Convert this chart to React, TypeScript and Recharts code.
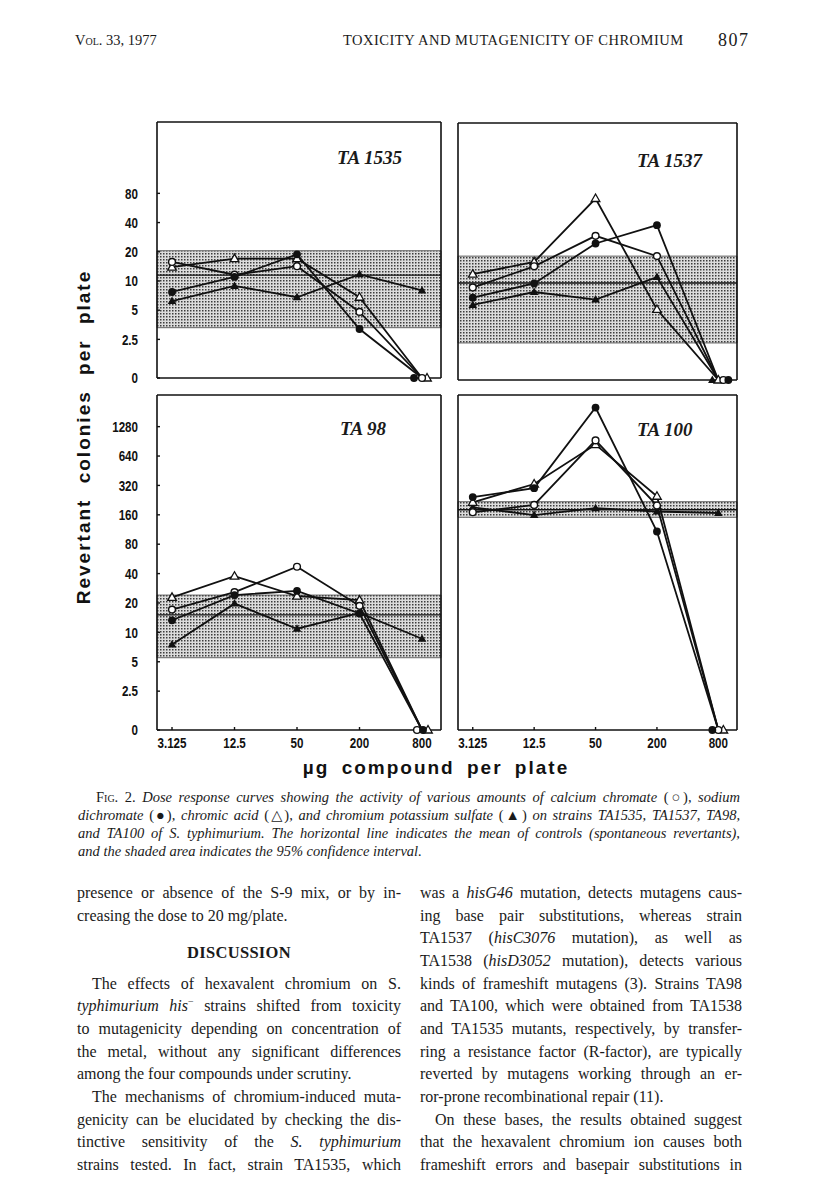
import React from 'react';
import { LineChart, Line, XAxis, YAxis, ReferenceArea, ReferenceLine } from 'recharts';

// doses in µg per plate (log-spaced, factor 4)
const DOSES = [3.125, 12.5, 50, 200, 800];
const TOP_TICKS = [0, 2.5, 5, 10, 20, 40, 80];
const BOTTOM_TICKS = [0, 2.5, 5, 10, 20, 40, 80, 160, 320, 640, 1280];

// revertant colonies per plate (0 = toxic, no colonies)
const TA1535_CALCIUM = [15.7, 11.6, 14.2, 4.8, 0];
const TA1535_SODIUM = [7.7, 11.0, 18.8, 3.2, 0];
const TA1535_CHROMIC = [13.9, 17.0, 17.0, 6.8, 0];
const TA1535_CRK = [6.2, 8.9, 6.8, 11.7, 8.0];
const TA1535_CONTROL = [3.3, 11.5, 20.5]; // lower 95%, mean, upper 95%

const TA1537_CALCIUM = [8.9, 14.7, 30.2, 18.7, 0];
const TA1537_SODIUM = [7.0, 9.8, 25.2, 38.9, 0];
const TA1537_CHROMIC = [12.2, 16.3, 73, 5.3, 0];
const TA1537_CRK = [5.9, 8.0, 6.7, 11.4, 0];
const TA1537_CONTROL = [2.4, 9.9, 18.7];

const TA98_CALCIUM = [17.1, 25.8, 47, 18.7, 0];
const TA98_SODIUM = [13.3, 24.1, 26.6, 15.6, 0];
const TA98_CHROMIC = [22.8, 37.6, 23.5, 21.4, 0];
const TA98_CRK = [7.5, 19.7, 10.9, 15.8, 8.6];
const TA98_CONTROL = [5.5, 15.1, 24.1];

const TA100_CALCIUM = [170, 202, 925, 199, 0];
const TA100_SODIUM = [243, 300, 2008, 108, 0];
const TA100_CHROMIC = [215, 331, 838, 248, 0];
const TA100_CRK = [191, 159, 187, 173, 167];
const TA100_CONTROL = [151, 180, 218];

const FLOOR = 1; // where "0" sits on the log axis
const X_DOMAIN = [2.24, 1219];
const PAD = 6;
const PAD_BOTTOM = 12;
const INK = '#111';

type Marker = 'openCircle' | 'filledCircle' | 'openTriangle' | 'filledTriangle';

const SERIES: { key: string; marker: Marker }[] = [
  { key: 'crk', marker: 'filledTriangle' },
  { key: 'chromic', marker: 'openTriangle' },
  { key: 'calcium', marker: 'openCircle' },
  { key: 'sodium', marker: 'filledCircle' },
];

const PANELS = [
  {
    id: 'ta1535',
    data: { calcium: TA1535_CALCIUM, sodium: TA1535_SODIUM, chromic: TA1535_CHROMIC, crk: TA1535_CRK },
    control: TA1535_CONTROL,
    ticks: TOP_TICKS,
    yMax: 435,
    box: { x: 157, y: 122, w: 284, h: 256 },
    yLabels: true,
    xLabels: false,
    zeroShift: { sodium: -8, calcium: 0, chromic: 5 } as Record<string, number>,
  },
  {
    id: 'ta1537',
    data: { calcium: TA1537_CALCIUM, sodium: TA1537_SODIUM, chromic: TA1537_CHROMIC, crk: TA1537_CRK },
    control: TA1537_CONTROL,
    ticks: TOP_TICKS,
    yMax: 435,
    box: { x: 458, y: 123, w: 279, h: 257 },
    yLabels: false,
    xLabels: false,
    zeroShift: { crk: -6, chromic: 0, calcium: 5, sodium: 10 } as Record<string, number>,
  },
  {
    id: 'ta98',
    data: { calcium: TA98_CALCIUM, sodium: TA98_SODIUM, chromic: TA98_CHROMIC, crk: TA98_CRK },
    control: TA98_CONTROL,
    ticks: BOTTOM_TICKS,
    yMax: 2700,
    box: { x: 157, y: 395, w: 284, h: 335 },
    yLabels: true,
    xLabels: true,
    zeroShift: { calcium: -5, sodium: 1, chromic: 6 } as Record<string, number>,
  },
  {
    id: 'ta100',
    data: { calcium: TA100_CALCIUM, sodium: TA100_SODIUM, chromic: TA100_CHROMIC, crk: TA100_CRK },
    control: TA100_CONTROL,
    ticks: BOTTOM_TICKS,
    yMax: 2700,
    box: { x: 458, y: 395, w: 279, h: 335 },
    yLabels: false,
    xLabels: true,
    zeroShift: { sodium: -6, calcium: 0, chromic: 5 } as Record<string, number>,
  },
];

const plotValue = (v: number) => (v === 0 ? FLOOR : v);

// bold, horizontally squeezed digits like the original's condensed face
const tickText = {
  fontFamily: "'Liberation Sans', Arial, sans-serif",
  fontWeight: 700,
  fontSize: 14.5,
  fill: INK,
};

function YTick(props: any) {
  const { x, y, payload } = props;
  const label = payload.value === FLOOR ? '0' : String(payload.value);
  return (
    <text transform={`translate(${x},${y}) scale(0.8,1)`} textAnchor="end" dy="0.36em" {...tickText}>
      {label}
    </text>
  );
}

function XTick(props: any) {
  const { x, y, payload } = props;
  return (
    <text transform={`translate(${x},${y}) scale(0.8,1)`} textAnchor="middle" dy="0.71em" {...tickText}>
      {String(payload.value)}
    </text>
  );
}

function drawMarker(marker: Marker, shift: number) {
  return (props: any) => {
    const { cx, cy, index, payload, dataKey } = props;
    const k = `${dataKey}-${index}`;
    if (cx == null || cy == null) return <g key={k} />;
    const x = payload[dataKey] === FLOOR ? cx + shift : cx;
    const y = cy;
    if (marker === 'openCircle') {
      return <circle key={k} cx={x} cy={y} r={3.4} fill="#fff" stroke={INK} strokeWidth={1.4} />;
    }
    if (marker === 'filledCircle') {
      return <circle key={k} cx={x} cy={y} r={3.9} fill={INK} />;
    }
    const d = `M${x},${y - 4.5} L${x + 4.3},${y + 3} L${x - 4.3},${y + 3} Z`;
    return marker === 'openTriangle' ? (
      <path key={k} d={d} fill="#fff" stroke={INK} strokeWidth={1.3} />
    ) : (
      <path key={k} d={d} fill={INK} />
    );
  };
}

function Panel({ p }: { p: (typeof PANELS)[number] }) {
  const rows = DOSES.map((dose, i) => ({
    dose,
    calcium: plotValue(p.data.calcium[i]),
    sodium: plotValue(p.data.sodium[i]),
    chromic: plotValue(p.data.chromic[i]),
    crk: plotValue(p.data.crk[i]),
  }));
  const ticks = p.ticks.map((t) => (t === 0 ? FLOOR : t));
  const lw = p.yLabels ? 45 : 1;
  const bh = p.xLabels ? 30 : 1;
  const patId = `stipple-${p.id}`;
  const [low, mean, high] = p.control;
  const axisLine = { stroke: INK, strokeWidth: 1.6 };
  const tickLine = { stroke: INK, strokeWidth: 1.4 };

  return (
    <div style={{ position: 'absolute', left: p.box.x - PAD - lw, top: p.box.y - PAD - 1 }}>
      <LineChart
        width={PAD + lw + p.box.w + 1 + PAD}
        height={PAD + 1 + p.box.h + bh + PAD_BOTTOM}
        data={rows}
        margin={{ top: PAD, right: PAD, bottom: PAD_BOTTOM, left: PAD }}
      >
        <defs>
          <pattern id={patId} width="3" height="3" patternUnits="userSpaceOnUse">
            <rect width="3" height="3" fill="#dcdcdc" />
            <rect x="0" y="0" width="1.5" height="1.5" fill="#3c3c3c" />
          </pattern>
        </defs>
        <XAxis
          dataKey="dose"
          type="number"
          scale="log"
          domain={X_DOMAIN}
          ticks={DOSES}
          interval={0}
          height={bh}
          tickSize={-3}
          tickMargin={11}
          tick={p.xLabels ? <XTick /> : false}
          axisLine={axisLine}
          tickLine={tickLine}
        />
        <XAxis
          xAxisId="t"
          orientation="top"
          dataKey="dose"
          type="number"
          scale="log"
          domain={X_DOMAIN}
          ticks={DOSES}
          interval={0}
          height={1}
          tickSize={-3}
          tick={false}
          axisLine={axisLine}
          tickLine={tickLine}
        />
        <YAxis
          type="number"
          scale="log"
          domain={[FLOOR, p.yMax]}
          ticks={ticks}
          interval={0}
          width={lw}
          tickSize={-3}
          tickMargin={22}
          tick={p.yLabels ? <YTick /> : false}
          axisLine={axisLine}
          tickLine={tickLine}
        />
        <YAxis
          yAxisId="r"
          orientation="right"
          type="number"
          scale="log"
          domain={[FLOOR, p.yMax]}
          ticks={ticks}
          interval={0}
          width={1}
          tickSize={-3}
          tick={false}
          axisLine={axisLine}
          tickLine={tickLine}
        />
        <ReferenceArea y1={low} y2={high} fill={`url(#${patId})`} fillOpacity={1} stroke="#555" strokeWidth={0.9} />
        <ReferenceLine y={mean} stroke={INK} strokeWidth={1.4} />
        {SERIES.map((s) => (
          <Line
            key={s.key}
            dataKey={s.key}
            type="linear"
            stroke={INK}
            strokeWidth={1.8}
            dot={drawMarker(s.marker, p.zeroShift[s.key] ?? 0)}
            activeDot={false}
            isAnimationActive={false}
          />
        ))}
      </LineChart>
    </div>
  );
}

const TITLES = [
  { text: 'TA 1535', x: 337, y: 147 },
  { text: 'TA 1537', x: 637, y: 150 },
  { text: 'TA 98', x: 340, y: 418 },
  { text: 'TA 100', x: 637, y: 419 },
];

const serif = "'Liberation Serif', 'DejaVu Serif', serif";
const sans = "'Liberation Sans', Arial, sans-serif";

function TextLine({ x, y, w, justify = true, indent = 0, children, size = 16, italic = false }: any) {
  return (
    <div
      style={{
        position: 'absolute',
        left: x,
        top: y - 11,
        width: w,
        boxSizing: 'border-box',
        paddingLeft: indent,
        fontSize: size,
        lineHeight: '22px',
        whiteSpace: 'nowrap',
        textAlign: 'justify',
        textAlignLast: justify ? 'justify' : 'left',
        fontStyle: italic ? 'italic' : 'normal',
        color: '#1a1a1a',
      }}
    >
      {children}
    </div>
  );
}

const I = ({ children }: any) => <span style={{ fontStyle: 'italic' }}>{children}</span>;
const U = ({ children }: any) => <span style={{ fontStyle: 'normal' }}>{children}</span>;

const LX = 77;
const LW = 324;
const RX = 420;
const RW = 322;
const rowY = (i: number) => 893 + i * 22.67;

export default function App() {
  return (
    <div
      style={{
        position: 'absolute',
        left: 0,
        top: 0,
        width: 816,
        height: 1197,
        background: '#fff',
        fontFamily: serif,
        color: '#1a1a1a',
        overflow: 'hidden',
      }}
    >
      {/* running head */}
      <div style={{ position: 'absolute', left: 75, top: 31, fontSize: 14.5, lineHeight: '18px' }}>
        <span style={{ fontVariant: 'small-caps' }}>Vol.</span> 33, 1977
      </div>
      <div style={{ position: 'absolute', left: 343, top: 31, fontSize: 14.5, lineHeight: '18px', letterSpacing: 0.5, whiteSpace: 'nowrap' }}>
        TOXICITY AND MUTAGENICITY OF CHROMIUM
      </div>
      <div style={{ position: 'absolute', left: 718, top: 30, fontSize: 18, lineHeight: '20px', letterSpacing: 1.5 }}>807</div>

      {PANELS.map((p) => (
        <Panel key={p.id} p={p} />
      ))}

      {TITLES.map((t) => (
        <div
          key={t.text}
          style={{
            position: 'absolute',
            left: t.x,
            top: t.y,
            fontFamily: serif,
            fontWeight: 700,
            fontStyle: 'italic',
            fontSize: 19,
            lineHeight: '22px',
            whiteSpace: 'nowrap',
          }}
        >
          {t.text}
        </div>
      ))}

      {/* axis titles */}
      <div
        style={{
          position: 'absolute',
          left: 84,
          top: 437,
          transform: 'translate(-50%, -50%) rotate(-90deg)',
          fontFamily: sans,
          fontWeight: 700,
          fontSize: 19,
          letterSpacing: 2,
          wordSpacing: 8,
          whiteSpace: 'nowrap',
          color: INK,
        }}
      >
        Revertant colonies per plate
      </div>
      <div
        style={{
          position: 'absolute',
          left: 436,
          top: 768,
          transform: 'translate(-50%, -50%)',
          fontFamily: sans,
          fontWeight: 700,
          fontSize: 19,
          letterSpacing: 2,
          wordSpacing: 5,
          whiteSpace: 'nowrap',
          color: INK,
        }}
      >
        µg compound per plate
      </div>

      {/* caption */}
      <TextLine x={78} y={797} w={662} indent={18} size={14.5} italic>
        <U><span style={{ fontVariant: 'small-caps' }}>Fig.</span> 2.</U> Dose response curves showing the activity of various amounts of calcium chromate <U>(○)</U>, sodium
      </TextLine>
      <TextLine x={78} y={815} w={662} size={14.5} italic>
        dichromate <U>(●)</U>, chromic acid <U>(△)</U>, and chromium potassium sulfate <U>(▲)</U> on strains TA1535, TA1537, TA98,
      </TextLine>
      <TextLine x={78} y={833} w={662} size={14.5} italic>
        and TA100 of S. typhimurium. The horizontal line indicates the mean of controls (spontaneous revertants),
      </TextLine>
      <TextLine x={78} y={851} w={662} size={14.5} italic justify={false}>
        and the shaded area indicates the 95% confidence interval.
      </TextLine>

      {/* left column */}
      <TextLine x={LX} y={rowY(0)} w={LW}>presence or absence of the S-9 mix, or by in-</TextLine>
      <TextLine x={LX} y={rowY(1)} w={LW} justify={false}>creasing the dose to 20 mg/plate.</TextLine>
      <div
        style={{
          position: 'absolute',
          left: LX,
          width: LW,
          top: 953 - 11,
          lineHeight: '22px',
          fontSize: 16.5,
          fontWeight: 700,
          textAlign: 'center',
          letterSpacing: 0.3,
        }}
      >
        DISCUSSION
      </div>
      <TextLine x={LX} y={rowY(4)} w={LW} indent={15}>The effects of hexavalent chromium on S.</TextLine>
      <TextLine x={LX} y={rowY(5)} w={LW}>
        <I>typhimurium his</I>
        <sup style={{ fontSize: 10, lineHeight: 0 }}>−</sup> strains shifted from toxicity
      </TextLine>
      <TextLine x={LX} y={rowY(6)} w={LW}>to mutagenicity depending on concentration of</TextLine>
      <TextLine x={LX} y={rowY(7)} w={LW}>the metal, without any significant differences</TextLine>
      <TextLine x={LX} y={rowY(8)} w={LW} justify={false}>among the four compounds under scrutiny.</TextLine>
      <TextLine x={LX} y={rowY(9)} w={LW} indent={15}>The mechanisms of chromium-induced muta-</TextLine>
      <TextLine x={LX} y={rowY(10)} w={LW}>genicity can be elucidated by checking the dis-</TextLine>
      <TextLine x={LX} y={rowY(11)} w={LW}>
        tinctive sensitivity of the <I>S. typhimurium</I>
      </TextLine>
      <TextLine x={LX} y={rowY(12)} w={LW}>strains tested. In fact, strain TA1535, which</TextLine>

      {/* right column */}
      <TextLine x={RX} y={rowY(0)} w={RW}>
        was a <I>hisG46</I> mutation, detects mutagens caus-
      </TextLine>
      <TextLine x={RX} y={rowY(1)} w={RW}>ing base pair substitutions, whereas strain</TextLine>
      <TextLine x={RX} y={rowY(2)} w={RW}>
        TA1537 (<I>hisC3076</I> mutation), as well as
      </TextLine>
      <TextLine x={RX} y={rowY(3)} w={RW}>
        TA1538 (<I>hisD3052</I> mutation), detects various
      </TextLine>
      <TextLine x={RX} y={rowY(4)} w={RW}>kinds of frameshift mutagens (3). Strains TA98</TextLine>
      <TextLine x={RX} y={rowY(5)} w={RW}>and TA100, which were obtained from TA1538</TextLine>
      <TextLine x={RX} y={rowY(6)} w={RW}>and TA1535 mutants, respectively, by transfer-</TextLine>
      <TextLine x={RX} y={rowY(7)} w={RW}>ring a resistance factor (R-factor), are typically</TextLine>
      <TextLine x={RX} y={rowY(8)} w={RW}>reverted by mutagens working through an er-</TextLine>
      <TextLine x={RX} y={rowY(9)} w={RW} justify={false}>ror-prone recombinational repair (11).</TextLine>
      <TextLine x={RX} y={rowY(10)} w={RW} indent={15}>On these bases, the results obtained suggest</TextLine>
      <TextLine x={RX} y={rowY(11)} w={RW}>that the hexavalent chromium ion causes both</TextLine>
      <TextLine x={RX} y={rowY(12)} w={RW}>frameshift errors and basepair substitutions in</TextLine>
    </div>
  );
}
